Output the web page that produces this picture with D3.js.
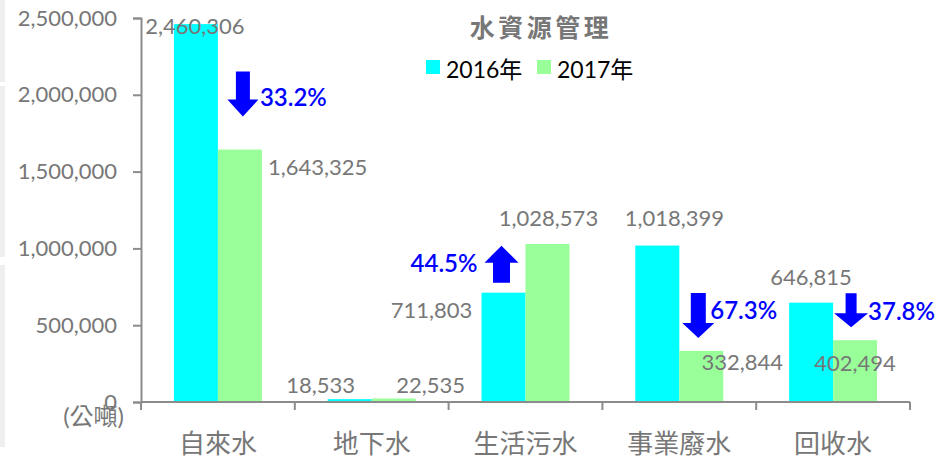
<!DOCTYPE html>
<html><head><meta charset="utf-8">
<script src="https://cdn.jsdelivr.net/npm/d3@7"></script>
<style>
html,body{margin:0;padding:0;background:#fff;}
svg{display:block;font-family:Lato,"Noto Sans CJK TC",sans-serif;}
</style></head>
<body>
<svg id="chart" width="938" height="458"></svg>
<script>
// ---- data ----
const categories = ["自來水", "地下水", "生活污水", "事業廢水", "回收水"];
const seriesNames = ["2016年", "2017年"];
const values2016 = [2460306, 18533, 711803, 1018399, 646815];
const values2017 = [1643325, 22535, 1028573, 332844, 402494];
const yTicks = [0, 500000, 1000000, 1500000, 2000000, 2500000];
const changeCategories = ["自來水", "生活污水", "事業廢水", "回收水"];
const changeTexts = ["33.2%", "44.5%", "67.3%", "37.8%"];
const changeDirections = ["down", "up", "down", "down"];
const titleText = "水資源管理";
const unitText = "(公噸)";

// ---- layout (not data) ----
const W = 938, H = 458;
const colors = ["#00ffff", "#99ff99"];
const gray = "#777777";
const axisColor = "#8c8c8c";
const blue = "#0000ff";
const x0 = 141, x1 = 910, yTop = 18, yBase = 402;
// per-label offsets (dx from bar centre, dy from bar top) for the value labels
const labelOffsets2016 = [[-1, 1], [-29, -15], [-72, 17], [17, -28], [0, -26]];
const labelOffsets2017 = [[0, 17, "start", 6], [37, -14], [1, -27], [41, 11], [0, 22]];
// arrow geometry: series index the arrow sits over, dx, gap above bar top, length, shaft w, head w, head len, text dx, text dy
const arrowLayout = [
  {s: 1, dx: 3, gap: 33, len: 45, sw: 14, hw: 31, hl: 17, tdx: 17, tdy: 25, anchor: "start"},
  {s: 0, dx: -2, gap: 10, len: 37, sw: 17, hw: 34, hl: 17, tdx: -24, tdy: 17, anchor: "end"},
  {s: 1, dx: -3, gap: 13, len: 45, sw: 15, hw: 32, hl: 15, tdx: 12, tdy: 17, anchor: "start"},
  {s: 1, dx: -4, gap: 13, len: 34, sw: 11, hw: 34, hl: 14, tdx: 17, tdy: 17, anchor: "start"}
];

const svg = d3.select("#chart");

// left-edge light strips (screenshot frame)
[[0, 82], [86, 257], [265, 447]].forEach(([a, b]) => {
  svg.append("rect").attr("x", 0).attr("y", a).attr("width", 5).attr("height", b - a).attr("fill", "#efefef");
});

const x = d3.scaleBand().domain(categories).range([x0, x1]).padding(0);
const xs = d3.scaleBand().domain(seriesNames).range([0, x.bandwidth()]).paddingInner(0).paddingOuter(0.748);
const y = d3.scaleLinear().domain([0, 2500000]).range([yBase, yTop]);
const fmt = d3.format(",");

// bars
const rows = categories.map((c, i) => ({c, i, vals: [values2016[i], values2017[i]]}));
const g = svg.append("g");
rows.forEach(r => {
  r.vals.forEach((v, s) => {
    g.append("rect")
      .attr("x", x(r.c) + xs(seriesNames[s]))
      .attr("y", y(v))
      .attr("width", xs.bandwidth())
      .attr("height", yBase - y(v))
      .attr("fill", colors[s]);
  });
});

// y axis
const yAxis = d3.axisLeft(y).tickValues(yTicks).tickFormat(fmt).tickSize(8).tickPadding(16).tickSizeOuter(8);
const ya = svg.append("g").attr("transform", `translate(${x0},0)`).call(yAxis);
ya.selectAll("path,line").attr("stroke", axisColor).attr("stroke-width", 2);
ya.selectAll("text").attr("fill", gray).attr("font-size", 22).attr("font-family", "Lato, 'Noto Sans CJK TC', sans-serif");

// x axis line + boundary ticks
svg.append("line").attr("x1", x0).attr("x2", x1).attr("y1", yBase).attr("y2", yBase)
  .attr("stroke", axisColor).attr("stroke-width", 2);
const bounds = categories.map(c => x(c)).concat([x(categories[categories.length - 1]) + x.bandwidth()]);
svg.selectAll(".xt").data(bounds).enter().append("line")
  .attr("x1", d => d).attr("x2", d => d).attr("y1", yBase).attr("y2", yBase + 8)
  .attr("stroke", axisColor).attr("stroke-width", 2);
svg.selectAll(".xl").data(categories).enter().append("text")
  .attr("x", d => x(d) + x.bandwidth() / 2).attr("y", 443)
  .attr("text-anchor", "middle").attr("dominant-baseline", "central")
  .attr("fill", gray).attr("font-size", 26).text(d => d);

// value labels
rows.forEach(r => {
  r.vals.forEach((v, s) => {
    const off = (s === 0 ? labelOffsets2016 : labelOffsets2017)[r.i];
    const cx = x(r.c) + xs(seriesNames[s]) + xs.bandwidth() / 2;
    let tx = cx + off[0], anchor = "middle";
    if (off[2] === "start") { tx = x(r.c) + xs(seriesNames[s]) + xs.bandwidth() + off[3]; anchor = "start"; }
    svg.append("text").attr("x", tx).attr("y", y(v) + off[1])
      .attr("text-anchor", anchor).attr("dominant-baseline", "central")
      .attr("fill", gray).attr("font-size", 22).text(fmt(v));
  });
});

// change arrows
changeCategories.forEach((c, k) => {
  const L = arrowLayout[k];
  const i = categories.indexOf(c);
  const v = L.s === 0 ? values2016[i] : values2017[i];
  const cx = x(c) + xs(seriesNames[L.s]) + xs.bandwidth() / 2 + L.dx;
  const barTop = y(v);
  const near = barTop - L.gap, far = near - L.len;
  let pts, textY;
  if (changeDirections[k] === "down") {
    const hb = near - L.hl;
    pts = [[cx - L.sw / 2, far], [cx + L.sw / 2, far], [cx + L.sw / 2, hb], [cx + L.hw / 2, hb], [cx, near],
           [cx - L.hw / 2, hb], [cx - L.sw / 2, hb]];
    textY = far + L.tdy;
  } else {
    const hb = far + L.hl;
    pts = [[cx - L.sw / 2, near], [cx + L.sw / 2, near], [cx + L.sw / 2, hb], [cx + L.hw / 2, hb], [cx, far],
           [cx - L.hw / 2, hb], [cx - L.sw / 2, hb]];
    textY = far + L.tdy;
  }
  svg.append("path").attr("d", d3.line()(pts) + "Z").attr("fill", blue);
  svg.append("text").attr("x", cx + L.tdx).attr("y", textY)
    .attr("text-anchor", L.anchor).attr("dominant-baseline", "central")
    .attr("fill", blue).attr("font-size", 24).attr("font-weight", 600).text(changeTexts[k]);
});

// title
svg.append("text").attr("x", 541).attr("y", 27).attr("text-anchor", "middle").attr("dominant-baseline", "central")
  .attr("fill", gray).attr("font-size", 25).attr("font-weight", "bold").attr("letter-spacing", 3.5).text(titleText);

// legend
const legendX = [426, 537];
seriesNames.forEach((n, s) => {
  svg.append("rect").attr("x", legendX[s]).attr("y", 60).attr("width", 14).attr("height", 14).attr("fill", colors[s]);
  svg.append("text").attr("x", legendX[s] + 20).attr("y", 69).attr("dominant-baseline", "central")
    .attr("fill", "#000").attr("font-size", 23).text(n);
});

// unit label
svg.append("text").attr("x", 124).attr("y", 415).attr("text-anchor", "end").attr("dominant-baseline", "central")
  .attr("fill", gray).attr("font-size", 24).text(unitText);
</script>
</body></html>
